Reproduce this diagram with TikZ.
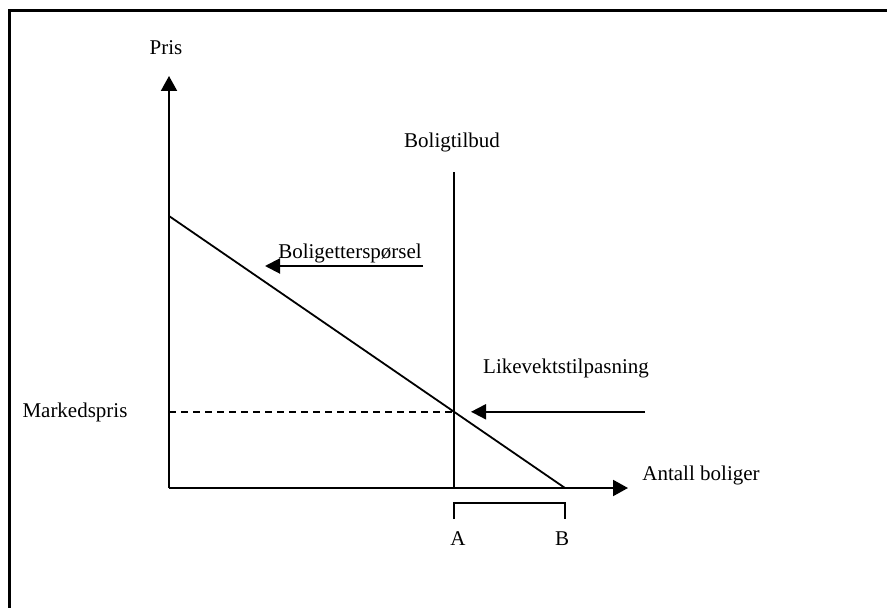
\documentclass[tikz,border=0pt]{standalone}
\usepackage{fontspec}
\setmainfont{Liberation Serif}
\usetikzlibrary{arrows.meta,positioning}

\begin{document}
\begin{tikzpicture}[x=0.5pt,y=-0.5pt,
    axis/.style={line width=1pt,-{Triangle[length=7.5pt,width=8pt]}},
    pointer/.style={line width=1pt,-{Triangle[length=7.5pt,width=7.5pt]}},
    curve/.style={line width=0.9pt},
    lbl/.style={font=\fontsize{10.5}{12}\selectfont,inner sep=0pt}]
    \useasboundingbox (0,0) rectangle (887,608);

    % Ramme
    \draw[line width=1.5pt] (9,608) -- (9,11) -- (887,11);

    % Akser
    \coordinate (O) at (169,488);
    \coordinate (ytop) at (169,76);
    \coordinate (xend) at (628,488);
    \draw[axis] (O) -- (ytop);
    \draw[axis] (O) -- (xend);
    \node[lbl] (pris) at (166,48) {Pris};
    \node[lbl,anchor=west] (antall) at (642,475) {Antall boliger};

    % Tilbud
    \coordinate (stop) at (454,172);
    \coordinate (sbot) at (454,488);
    \draw[curve] (sbot) -- (stop);
    \node[lbl] (tilbud) at (452,142) {Boligtilbud};

    % Etterspørsel
    \coordinate (dtop) at (169,216);
    \coordinate (dbot) at (565,488);
    \draw[curve] (dtop) -- (dbot);
    \node[lbl] (ettersp) at (350,253) {Boligetterspørsel};
    \coordinate (etstart) at (423,266);
    \coordinate (etend) at (265,266);
    \draw[pointer] (etstart) -- (etend);

    % Likevekt
    \coordinate (eq) at (intersection of dtop--dbot and stop--sbot);
    \draw[line width=0.8pt,dash pattern=on 3.5pt off 2.5pt] (ytop |- eq) -- (eq);
    \node[lbl] (marked) at (75,412) {Markedspris};
    \coordinate (likstart) at (645,0 |- eq);
    \coordinate (likend) at (471,0 |- eq);
    \draw[pointer] (likstart) -- (likend);
    \node[lbl] (likevekt) at (566,368) {Likevektstilpasning};

    % Intervall A--B
    \coordinate (bA) at (454,503);
    \coordinate (bB) at (565,503);
    \draw[curve] ([yshift=-8pt]bA) -- (bA) -- (bB) -- ([yshift=-8pt]bB);
    \node[lbl] (A) at (458,539) {A};
    \node[lbl] (B) at (562,539) {B};
\end{tikzpicture}
\end{document}
